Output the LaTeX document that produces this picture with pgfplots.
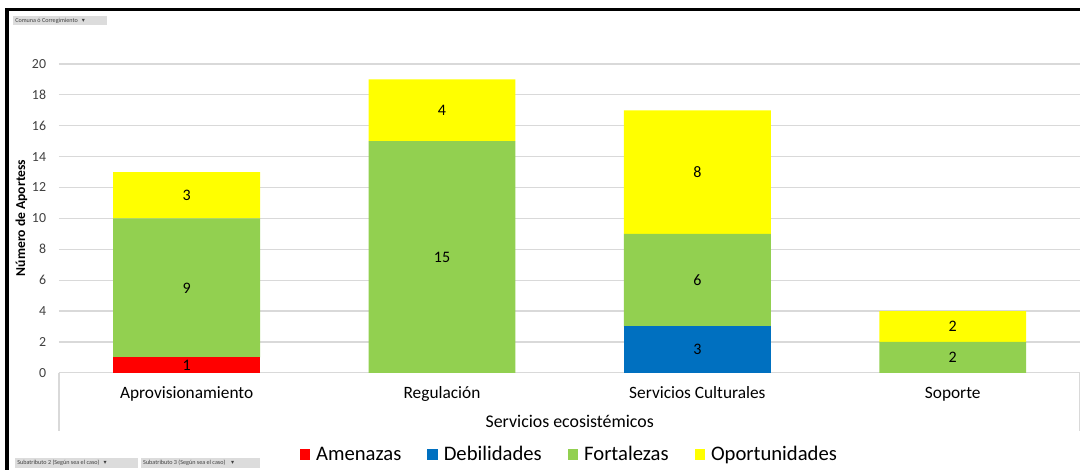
\documentclass[border=0pt]{standalone}
\usepackage{pgfplots}
\pgfplotsset{compat=1.18}
\usepackage{fontspec}
\setmainfont{Carlito}
\newfontfamily\symfont{DejaVu Sans}
\definecolor{cRed}{HTML}{FF0000}
\definecolor{cBlue}{HTML}{0070C0}
\definecolor{cGreen}{HTML}{92D050}
\definecolor{cYellow}{HTML}{FFFF00}
\definecolor{gridc}{HTML}{D9D9D9}
\definecolor{tickc}{HTML}{404040}
\definecolor{btn}{HTML}{DCDCDC}
\begin{document}
\begin{tikzpicture}[x=0.75pt,y=0.75pt]
\path[fill=white] (0,0) rectangle (1081,470);
% frame
\fill[black] (5.5,0) rectangle (9,462);
\fill[black] (5.5,458.5) rectangle (1081,462);
% pivot buttons
\fill[btn] (13,445) rectangle (107,454);
\node[anchor=west,inner sep=0pt,font=\fontsize{4.6}{5}\selectfont,text=tickc] at (15,449.5) {Comuna ó Corregimiento \ \ {\symfont ▾}};
\fill[btn] (15,2) rectangle (138,12);
\node[anchor=west,inner sep=0pt,font=\fontsize{4.6}{5}\selectfont,text=tickc] at (17,7) {Subatributo 2 (Según sea el caso) \ \ {\symfont ▾}};
\fill[btn] (141,2) rectangle (260,12);
\node[anchor=west,inner sep=0pt,font=\fontsize{4.6}{5}\selectfont,text=tickc] at (143,7) {Subatributo 3 (Según sea el caso) \ \ \ {\symfont ▾}};
% multi-level axis separators
\draw[gridc,line width=0.9pt] (59,97) -- (59,39);
\draw[gridc,line width=0.9pt] (1080,97) -- (1080,39);
\begin{axis}[
  at={(44.25pt,72.75pt)}, anchor=south west,
  scale only axis, width=766.5pt, height=231.75pt,
  ybar stacked, bar width=110.25pt,
  xmin=-0.5, xmax=3.5, ymin=0, ymax=20,
  xtick={0,1,2,3},
  xticklabels={Aprovisionamiento,Regulación,Servicios Culturales,Soporte},
  ytick={0,2,...,20},
  major tick length=0pt,
  axis x line*=bottom, axis y line*=left,
  y axis line style={draw=none},
  x axis line style={draw=gridc,line width=0.9pt,-},
  ymajorgrids, grid style={draw=gridc,line width=0.9pt},
  /pgf/number format/assume math mode=true,
  yticklabel style={anchor=east,inner sep=0pt,xshift=-9.5pt,font=\fontsize{10.4}{12}\selectfont,text=tickc},
  xticklabel style={anchor=base,inner sep=0pt,yshift=-19.5pt,font=\fontsize{13}{15}\selectfont,text=black},
  visualization depends on=rawy \as \rawy,
  nodes near coords={\ifdim\rawy pt=0pt\else\pgfmathprintnumber{\rawy}\fi},
  every node near coord/.append style={anchor=center,font=\fontsize{12}{14}\selectfont,text=black,inner sep=0pt},
  legend columns=4,
  legend style={at={(0.5,-0.2654)},anchor=center,draw=none,fill=none,
    font=\fontsize{15.5}{17}\selectfont,
    /tikz/every even column/.append style={column sep=17.5pt},
    /tikz/every odd column/.append style={column sep=0pt}},
  legend image code/.code={\fill[#1] (0pt,-3.95pt) rectangle (7.9pt,3.95pt); \path (10.3pt,0pt);},
]
\addplot[fill=cRed,draw=none] coordinates {(0,1) (1,0) (2,0) (3,0)};
\addlegendentry{Amenazas}
\addplot[fill=cBlue,draw=none] coordinates {(0,0) (1,0) (2,3) (3,0)};
\addlegendentry{Debilidades}
\addplot[fill=cGreen,draw=none] coordinates {(0,9) (1,15) (2,6) (3,2)};
\addlegendentry{Fortalezas}
\addplot[fill=cYellow,draw=none] coordinates {(0,3) (1,4) (2,8) (3,2)};
\addlegendentry{Oportunidades}
\end{axis}
\node[font=\fontsize{13.4}{15}\selectfont] at (570,48) {Servicios ecosistémicos};
\node[rotate=90,font=\bfseries\fontsize{10.2}{12}\selectfont] at (21.5,252) {Número de Aportess};
\end{tikzpicture}
\end{document}
